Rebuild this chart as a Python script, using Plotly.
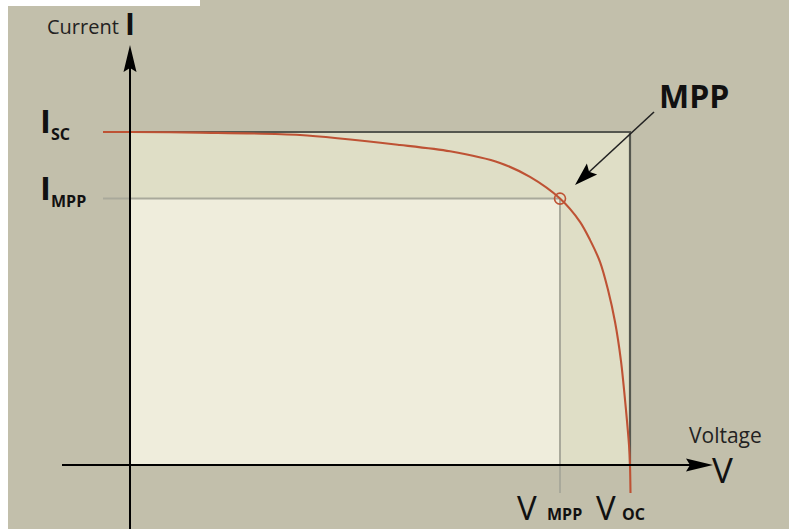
import plotly.graph_objects as go

# ---- data (normalised units: V / V_OC, I / I_SC) ----
V_OC = 1.0
I_SC = 1.0
V_MPP = 0.86
I_MPP = 0.80

curve_v = [-0.054, 0.0, 0.14, 0.34, 0.54, 0.64, 0.74, 0.80, 0.86, 0.90, 0.92, 0.94,
           0.956, 0.97, 0.982, 0.992, 0.998, 1.0, 1.001]
curve_i = [1.0, 1.0, 0.998, 0.991, 0.961, 0.942, 0.907, 0.865, 0.80, 0.730, 0.676,
           0.610, 0.526, 0.430, 0.312, 0.165, 0.060, 0.0, -0.084]

tick_labels = {"isc": ("I", "SC"), "impp": ("I", "MPP"),
               "vmpp": ("V", "MPP"), "voc": ("V", "OC")}

# ---- layout geometry ----
W, H = 789, 529
OX, OY = 130, 465      # pixel of origin
SX, SY = 500, 333      # pixels per unit
xr = [-OX / SX, (W - OX) / SX]
yr = [(OY - H) / SY, OY / SY]


def pv(px):
    return (px - OX) / SX


def pi(py):
    return (OY - py) / SY


BG = "#c2bfab"
OUTER = "#dfdec6"
INNER = "#efeddc"
RED = "#be5234"
DARK = "#55574f"
GRAY = "#a9a99b"
FONT = "Open Sans"

fig = go.Figure()

fig.add_trace(go.Scatter(x=curve_v, y=curve_i, mode="lines",
                         line=dict(color=RED, width=2.1, shape="spline", smoothing=0.8),
                         hoverinfo="skip", showlegend=False))
fig.add_trace(go.Scatter(x=[V_MPP], y=[I_MPP], mode="markers",
                         marker=dict(symbol="circle-open", size=11, color=RED,
                                     line=dict(width=1.6, color=RED)),
                         hoverinfo="skip", showlegend=False))

shapes = []
# rectangles
shapes.append(dict(type="rect", xref="x", yref="y", x0=0, x1=V_OC, y0=0, y1=I_SC,
                   fillcolor=OUTER, line=dict(width=0), layer="below"))
shapes.append(dict(type="rect", xref="x", yref="y", x0=0, x1=V_MPP, y0=0, y1=I_MPP,
                   fillcolor=INNER, line=dict(width=0), layer="below"))
shapes.append(dict(type="path", xref="x", yref="y",
                   path=f"M 0,{I_SC} L {V_OC},{I_SC} L {V_OC},0",
                   line=dict(color=DARK, width=2.2), layer="below"))
# MPP guide lines
shapes.append(dict(type="line", xref="x", yref="y", x0=curve_v[0], x1=V_MPP, y0=I_MPP, y1=I_MPP,
                   line=dict(color=GRAY, width=2), layer="below"))
shapes.append(dict(type="line", xref="x", yref="y", x0=V_MPP, x1=V_MPP, y0=I_MPP, y1=curve_i[-1],
                   line=dict(color=GRAY, width=2), layer="below"))

# axes
shapes.append(dict(type="line", xref="x", yref="y", x0=0, x1=0, y0=yr[0], y1=pi(68),
                   line=dict(color="black", width=2), layer="above"))
shapes.append(dict(type="line", xref="x", yref="y", x0=pv(62), x1=pv(690), y0=0, y1=0,
                   line=dict(color="black", width=2), layer="above"))


def head(tip, base, half):
    tx, ty = tip
    bx, by = base
    dx, dy = tx - bx, ty - by
    L = (dx * dx + dy * dy) ** 0.5
    nx, ny = -dy / L * half, dx / L * half
    pts = [(tx, ty), (bx + nx, by + ny), (bx + (dx / L) * 4, by + (dy / L) * 4), (bx - nx, by - ny)]
    return "M " + " L ".join(f"{pv(x)},{pi(y)}" for x, y in pts) + " Z"


shapes.append(dict(type="path", xref="x", yref="y", path=head((130, 45), (130, 72), 6.5),
                   fillcolor="black", line=dict(width=0), layer="above"))
shapes.append(dict(type="path", xref="x", yref="y", path=head((713, 465), (686, 465), 6.5),
                   fillcolor="black", line=dict(width=0), layer="above"))
# MPP pointer
shapes.append(dict(type="line", xref="x", yref="y", x0=pv(654), y0=pi(112), x1=pv(588), y1=pi(173),
                   line=dict(color="#222", width=1.6), layer="above"))
shapes.append(dict(type="path", xref="x", yref="y", path=head((575, 185), (592, 169), 7.5),
                   fillcolor="black", line=dict(width=0), layer="above"))

# white scan border
shapes.append(dict(type="rect", xref="paper", yref="paper", x0=0, x1=8 / W, y0=0, y1=1,
                   fillcolor="white", line=dict(width=0), layer="above"))
shapes.append(dict(type="rect", xref="paper", yref="paper", x0=0, x1=200 / W, y0=1 - 6 / H, y1=1,
                   fillcolor="white", line=dict(width=0), layer="above"))

ann = []


def txt(t, px, py, size, bold=False, xanchor="left", color="#111"):
    if bold:
        t = f"<b>{t}</b>"
    ann.append(dict(text=t, xref="paper", yref="paper", x=px / W, y=1 - py / H,
                    xanchor=xanchor, yanchor="middle", showarrow=False, borderpad=0,
                    font=dict(family=FONT, size=size, color=color)))


txt("Current", 83, 26, 20, xanchor="center", color="#222")
txt("I", 130, 24, 30, bold=True, xanchor="center")
txt(tick_labels["isc"][0], 45.5, 121, 33, bold=True, xanchor="center")
txt(tick_labels["isc"][1], 50, 134, 16, bold=True)
txt(tick_labels["impp"][0], 45.5, 187, 33, bold=True, xanchor="center")
txt(tick_labels["impp"][1], 50, 201, 16, bold=True)
txt("MPP", 658, 96, 32, bold=True)
txt("Voltage", 688, 435, 21, color="#222")
txt("V", 711, 469, 35)
txt(tick_labels["vmpp"][0], 516, 507, 33)
txt(tick_labels["vmpp"][1], 546, 514, 16, bold=True)
txt(tick_labels["voc"][0], 595, 507, 33)
txt(tick_labels["voc"][1], 621, 514, 16, bold=True)

fig.update_layout(
    width=W, height=H, margin=dict(l=0, r=0, t=0, b=0),
    paper_bgcolor=BG, plot_bgcolor=BG,
    xaxis=dict(range=xr, visible=False, fixedrange=True),
    yaxis=dict(range=yr, visible=False, fixedrange=True),
    shapes=shapes, annotations=ann, showlegend=False,
)

fig.write_html("out.html", config={"displayModeBar": False},
               post_script="document.body.style.margin='0';document.body.style.overflow='hidden';")
